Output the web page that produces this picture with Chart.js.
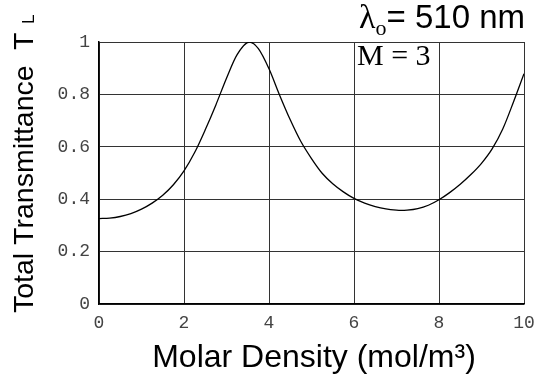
<!DOCTYPE html>
<html>
<head>
<meta charset="utf-8">
<script src="https://cdn.jsdelivr.net/npm/chart.js@4"></script>
<style>
  html, body { margin: 0; padding: 0; background: #fff; }
  #wrap { width: 536px; height: 374px; }
</style>
</head>
<body>
<div id="wrap"><canvas id="chart" width="536" height="374"></canvas></div>
<script>
// molar density (mol/m^3) and total transmittance
const density = [0, 0.25, 0.5, 0.75, 1, 1.25, 1.5, 1.75, 2, 2.25, 2.5, 2.75, 3, 3.25, 3.54, 3.75,
  4, 4.25, 4.5, 4.75, 5, 5.25, 5.5, 5.75, 6, 6.25, 6.5, 6.75, 7, 7.1, 7.25, 7.5, 7.75,
  8, 8.25, 8.5, 8.75, 9, 9.25, 9.5, 9.75, 10];
const transmittance = [0.326, 0.328, 0.334, 0.345, 0.362, 0.385, 0.415, 0.455, 0.508, 0.578, 0.665, 0.76, 0.862, 0.952, 1.0, 0.975,
  0.898, 0.797, 0.703, 0.62, 0.555, 0.499, 0.459, 0.428, 0.403, 0.385, 0.372, 0.363, 0.358, 0.357, 0.358, 0.364, 0.377,
  0.398, 0.425, 0.457, 0.494, 0.537, 0.592, 0.668, 0.77, 0.879];
const xTicks = [0, 2, 4, 6, 8, 10];
const yTicks = [0, 0.2, 0.4, 0.6, 0.8, 1];

const points = density.map((x, i) => ({ x: x, y: transmittance[i] }));

// titles and annotations drawn straight onto the canvas
const labelsPlugin = {
  id: 'labels',
  afterDraw(chart) {
    const ctx = chart.ctx;
    ctx.save();
    ctx.fillStyle = '#000';
    ctx.textBaseline = 'alphabetic';

    // x title
    ctx.font = '32px "Liberation Sans"';
    ctx.textAlign = 'center';
    ctx.fillText('Molar Density (mol/m\u00b3)', 314, 367);

    // y title, rotated
    ctx.save();
    ctx.translate(33, 313);
    ctx.rotate(-Math.PI / 2);
    ctx.textAlign = 'left';
    ctx.font = '28.5px "Liberation Sans"';
    ctx.fillText('Total Transmittance', 0, 0);
    ctx.fillText('T', 263, 0);
    ctx.font = '17px "Liberation Sans"';
    ctx.fillText('L', 289, 1);
    ctx.restore();

    // lambda label, top right
    ctx.textAlign = 'left';
    ctx.font = '33px "Liberation Sans"';
    const rest = '= 510 nm';
    const wr = ctx.measureText(rest).width;
    ctx.font = '34px "Liberation Serif"';
    const wl = ctx.measureText('\u03bb').width;
    ctx.font = '22px "Liberation Serif"';
    const wo = ctx.measureText('o').width;
    const x0 = 525 - wr - wo - wl;
    ctx.font = '34px "Liberation Serif"';
    ctx.fillText('\u03bb', x0, 28);
    ctx.font = '22px "Liberation Serif"';
    ctx.fillText('o', x0 + wl, 35);
    ctx.font = '33px "Liberation Sans"';
    ctx.fillText(rest, x0 + wl + wo, 28);

    // M = 3 inside plot
    ctx.font = '30px "Liberation Serif"';
    ctx.fillText('M = 3', 357, 65);
    ctx.restore();
  }
};

new Chart(document.getElementById('chart').getContext('2d'), {
  type: 'line',
  data: {
    datasets: [{
      data: points,
      borderColor: '#000',
      borderWidth: 1.3,
      pointRadius: 0,
      fill: false,
      cubicInterpolationMode: 'monotone'
    }]
  },
  options: {
    responsive: false,
    animation: false,
    events: [],
    layout: { padding: { left: 0, right: 12, top: 42, bottom: 0 } },
    plugins: { legend: { display: false }, tooltip: { enabled: false } },
    scales: {
      x: {
        type: 'linear',
        min: 0,
        max: 10,
        afterFit: s => { s.height = 70; s.paddingLeft = 0; s.paddingRight = 0; },
        afterBuildTicks: s => { s.ticks = xTicks.map(v => ({ value: v })); },
        grid: { color: '#333', lineWidth: 1, drawTicks: false },
        border: { color: '#000', width: 1.5 },
        ticks: { color: '#444', padding: 8, font: { family: 'Liberation Mono', size: 18 } }
      },
      y: {
        type: 'linear',
        min: 0,
        max: 1,
        afterFit: s => { s.width = 99; s.paddingTop = 0; s.paddingBottom = 0; },
        afterBuildTicks: s => { s.ticks = yTicks.map(v => ({ value: v })); },
        grid: { color: '#333', lineWidth: 1, drawTicks: false },
        border: { color: '#000', width: 1.5 },
        ticks: { color: '#444', padding: 9, font: { family: 'Liberation Mono', size: 18 },
          callback: v => String(v) }
      }
    }
  },
  plugins: [labelsPlugin]
});
</script>
</body>
</html>
